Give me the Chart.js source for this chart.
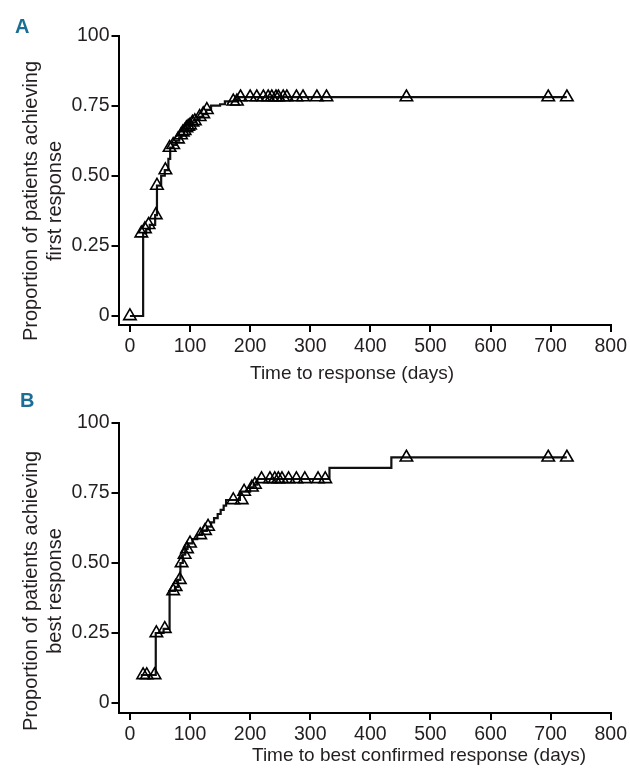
<!DOCTYPE html>
<html lang="en">
<head>
<meta charset="UTF-8">
<title>Time to response</title>
<script src="https://cdn.jsdelivr.net/npm/chart.js"></script>
<style>
  body { margin: 0; background: #fff; }
  .panel { position: absolute; left: 0; width: 630px; height: 385px; }
</style>
</head>
<body>
<div class="panel" style="top:0"><canvas id="chartA" width="630" height="385"></canvas></div>
<div class="panel" style="top:385px"><canvas id="chartB" width="630" height="385"></canvas></div>

<script>
// axis ticks
const xTicks = [0, 100, 200, 300, 400, 500, 600, 700, 800];
const yTicks = [0, 0.25, 0.5, 0.75, 1];
const yTickLabels = ["0", "0.25", "0.50", "0.75", "100"];

// Panel A - time to first response (step curve)
const stepDaysA = [0, 22, 27, 33, 42, 45, 52, 58, 64, 67, 72, 77, 82, 86, 90, 94, 98, 103, 110, 116, 121, 127, 135, 150, 158, 180, 727];
const stepPropA = [0, 0.295, 0.31, 0.325, 0.36, 0.465, 0.50, 0.52, 0.56, 0.60, 0.61, 0.625, 0.635, 0.645, 0.66, 0.67, 0.68, 0.69, 0.70, 0.71, 0.72, 0.735, 0.75, 0.755, 0.765, 0.78, 0.78];
// Panel A - censored marks
const censorDaysA = [0, 19, 25, 31, 43, 45, 59, 66, 72, 80, 85, 88, 91, 94, 97, 100, 104, 108, 116, 122, 128, 172, 178, 184, 200, 211, 222, 230, 236, 243, 247, 255, 261, 277, 288, 311, 327, 460, 696, 727];
const censorPropA = [0, 0.295, 0.31, 0.325, 0.36, 0.465, 0.52, 0.60, 0.61, 0.63, 0.645, 0.655, 0.66, 0.67, 0.675, 0.68, 0.69, 0.695, 0.71, 0.72, 0.735, 0.765, 0.765, 0.78, 0.78, 0.78, 0.78, 0.78, 0.78, 0.78, 0.78, 0.78, 0.78, 0.78, 0.78, 0.78, 0.78, 0.78, 0.78, 0.78];

// Panel B - time to best confirmed response (step curve)
const stepDaysB = [18, 43, 56, 66, 75, 80, 84, 88, 92, 96, 104, 112, 120, 128, 135, 140, 146, 151, 156, 160, 183, 200, 206, 212, 332, 435, 727];
const stepPropB = [0.10, 0.25, 0.265, 0.40, 0.415, 0.44, 0.50, 0.53, 0.55, 0.57, 0.585, 0.60, 0.615, 0.63, 0.645, 0.66, 0.675, 0.69, 0.705, 0.725, 0.755, 0.77, 0.78, 0.80, 0.84, 0.877, 0.877];
// Panel B - censored marks
const censorDaysB = [22, 28, 41, 44, 58, 72, 76, 83, 86, 91, 95, 100, 117, 125, 130, 172, 186, 190, 203, 208, 219, 233, 241, 247, 253, 264, 277, 291, 313, 325, 460, 696, 727];
const censorPropB = [0.10, 0.10, 0.10, 0.25, 0.265, 0.40, 0.415, 0.44, 0.50, 0.53, 0.55, 0.57, 0.60, 0.615, 0.63, 0.725, 0.725, 0.755, 0.77, 0.78, 0.80, 0.80, 0.80, 0.80, 0.80, 0.80, 0.80, 0.80, 0.80, 0.80, 0.877, 0.877, 0.877];

const FONT = "'Liberation Sans', Arial, sans-serif";
const TEXT = "#231f20";

// letters and axis titles, drawn after the chart
const panelText = {
    id: "panelText",
    afterDraw(chart, args, o) {
        const ctx = chart.ctx;
        ctx.save();
        ctx.fillStyle = "#1b6e94";
        ctx.font = "bold 20px " + FONT;
        ctx.textBaseline = "middle";
        ctx.textAlign = "left";
        ctx.fillText(o.letter, o.letterX, o.letterY);

        ctx.fillStyle = TEXT;
        ctx.font = "19px " + FONT;
        ctx.fillText(o.xTitle, o.xTitleX, o.xTitleY);

        ctx.font = "20px " + FONT;
        ctx.textAlign = "center";
        o.yTitle.forEach((line, i) => {
            ctx.save();
            ctx.translate(o.yTitleX + i * 24, o.yTitleY);
            ctx.rotate(-Math.PI / 2);
            ctx.fillText(line, 0, 0);
            ctx.restore();
        });
        ctx.restore();
    }
};

function toPoints(xs, ys) {
    return xs.map((x, i) => ({ x: x, y: ys[i] }));
}

function makeChart(id, stepDays, stepProp, cDays, cProp, cfg) {
    const axisLine = { display: true, color: "#000", width: 2 };
    const grid = { drawOnChartArea: false, drawTicks: true, tickLength: 7, color: "#000", lineWidth: 2 };
    return new Chart(document.getElementById(id), {
        type: "scatter",
        data: {
            datasets: [
                {
                    data: toPoints(cDays, cProp),
                    pointStyle: "triangle",
                    pointRadius: 7.2,
                    pointBorderWidth: 1.6,
                    borderColor: "#000",
                    backgroundColor: "rgba(255,255,255,0)",
                    showLine: false,
                    clip: false
                },
                {
                    data: toPoints(stepDays, stepProp),
                    showLine: true,
                    stepped: true,
                    borderColor: "#111",
                    borderWidth: 2.2,
                    pointRadius: 0,
                    fill: false,
                    clip: false
                }
            ]
        },
        options: {
            responsive: false,
            animation: false,
            layout: { padding: { top: cfg.padTop, right: 19, left: 0, bottom: 0 } },
            plugins: {
                legend: { display: false },
                tooltip: { enabled: false },
                panelText: cfg.text
            },
            scales: {
                x: {
                    type: "linear",
                    min: -19,
                    max: 800,
                    border: axisLine,
                    grid: grid,
                    afterBuildTicks: s => { s.ticks = xTicks.map(v => ({ value: v })); },
                    afterFit: s => { s.height = cfg.xHeight; },
                    ticks: { color: TEXT, padding: 3, font: { family: FONT, size: 19.5 } }
                },
                y: {
                    type: "linear",
                    min: cfg.yMin,
                    max: 1,
                    border: axisLine,
                    grid: grid,
                    afterBuildTicks: s => { s.ticks = yTicks.map(v => ({ value: v })); },
                    afterFit: s => { s.width = 118.5; },
                    ticks: {
                        color: TEXT, padding: 2, font: { family: FONT, size: 19.5 },
                        callback: v => yTickLabels[yTicks.indexOf(v)]
                    }
                }
            }
        },
        plugins: [panelText]
    });
}

makeChart("chartA", stepDaysA, stepPropA, censorDaysA, censorPropA, {
    padTop: 35.5, xHeight: 60, yMin: -0.032,
    text: {
        letter: "A", letterX: 15, letterY: 27,
        xTitle: "Time to response (days)", xTitleX: 250, xTitleY: 374,
        yTitle: ["Proportion of patients achieving", "first response"], yTitleX: 31, yTitleY: 201
    }
});

makeChart("chartB", stepDaysB, stepPropB, censorDaysB, censorPropB, {
    padTop: 38, xHeight: 57, yMin: -0.0357,
    text: {
        letter: "B", letterX: 20, letterY: 16,
        xTitle: "Time to best confirmed response (days)", xTitleX: 252, xTitleY: 371,
        yTitle: ["Proportion of patients achieving", "best response"], yTitleX: 31, yTitleY: 206
    }
});
</script>
</body>
</html>
